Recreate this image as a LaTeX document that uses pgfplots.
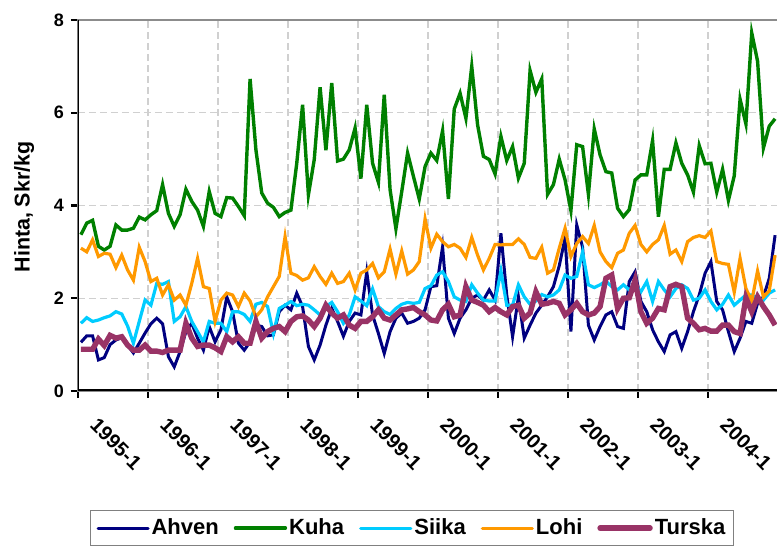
\documentclass[border=0pt]{standalone}
\usepackage{fontspec}
\setmainfont{Liberation Sans}
\usepackage{pgfplots}
\pgfplotsset{compat=1.18}
\usepackage{pgfplotstable}
\definecolor{ahven}{HTML}{000080}
\definecolor{kuha}{HTML}{008000}
\definecolor{siika}{HTML}{00CCFF}
\definecolor{lohi}{HTML}{FF9900}
\definecolor{turska}{HTML}{993366}
\definecolor{gridc}{HTML}{D0D0D0}

\pgfplotstableread{
m ahven kuha siika lohi turska
0 1.05 3.37 1.46 3.08 0.90
1 1.19 3.62 1.58 3.00 0.90
2 1.19 3.68 1.50 3.26 0.90
3 0.67 3.12 1.53 2.90 1.12
4 0.72 3.04 1.58 2.97 0.98
5 1.00 3.12 1.62 2.95 1.20
6 1.10 3.58 1.71 2.66 1.14
7 1.15 3.47 1.66 2.93 1.17
8 0.99 3.47 1.40 2.61 0.99
9 0.82 3.51 1.03 2.39 0.88
10 1.03 3.75 1.50 3.10 0.88
11 1.25 3.69 1.96 2.79 0.99
12 1.45 3.80 1.85 2.36 0.86
13 1.57 3.89 2.32 2.43 0.86
14 1.45 4.45 2.30 2.07 0.83
15 0.74 3.83 2.36 2.29 0.88
16 0.52 3.55 1.50 1.96 0.88
17 0.85 3.80 1.60 2.07 0.88
18 1.28 4.35 1.82 1.85 1.46
19 1.46 4.09 1.50 2.32 1.14
20 1.14 3.90 1.28 2.86 0.96
21 0.88 3.55 1.06 2.25 0.99
22 1.39 4.30 1.50 2.21 0.99
23 1.06 3.83 1.46 1.50 0.93
24 1.32 3.76 1.46 1.96 0.85
25 2.03 4.17 1.28 2.11 1.17
26 1.71 4.16 1.71 2.07 1.06
27 1.03 3.98 1.71 1.82 1.17
28 0.88 3.78 1.65 2.11 1.03
29 1.06 6.73 1.50 1.94 1.03
30 1.42 5.20 1.87 1.60 1.50
31 1.39 4.27 1.91 1.75 1.14
32 1.19 4.05 1.82 2.03 1.28
33 1.21 3.96 1.24 2.25 1.35
34 1.71 3.76 1.78 2.47 1.39
35 1.85 3.85 1.85 3.33 1.28
36 1.75 3.90 1.93 2.54 1.50
37 2.11 4.91 1.84 2.49 1.60
38 1.82 6.17 1.87 2.39 1.62
39 0.96 4.23 1.85 2.44 1.53
40 0.67 4.99 1.75 2.68 1.39
41 0.99 6.55 1.64 2.47 1.57
42 1.42 5.19 1.82 2.30 1.85
43 1.78 6.64 1.91 2.54 1.68
44 1.50 4.96 1.71 2.32 1.57
45 1.18 5.00 1.46 2.36 1.64
46 1.50 5.20 1.64 2.54 1.42
47 1.68 5.67 2.03 2.18 1.35
48 1.64 4.58 1.94 2.54 1.50
49 2.57 6.17 1.84 2.61 1.50
50 1.64 4.91 2.20 2.75 1.60
51 1.24 4.50 1.82 2.44 1.75
52 0.81 6.39 1.71 2.57 1.57
53 1.28 4.34 1.65 3.06 1.53
54 1.57 3.50 1.78 2.52 1.64
55 1.68 4.30 1.87 3.02 1.75
56 1.46 5.13 1.91 2.52 1.77
57 1.50 4.63 1.89 2.61 1.80
58 1.57 4.14 1.91 2.79 1.71
59 1.75 4.84 2.21 3.71 1.64
60 2.25 5.13 2.27 3.08 1.53
61 2.27 4.97 2.50 3.38 1.51
62 3.11 5.61 2.57 3.22 1.75
63 1.57 4.14 2.36 3.11 1.87
64 1.24 6.08 2.03 3.16 1.60
65 1.57 6.42 1.96 3.08 1.64
66 1.75 5.88 1.93 2.88 2.25
67 2.00 7.00 2.29 3.31 1.96
68 2.07 5.74 2.11 2.93 1.91
69 1.96 5.06 1.96 2.61 1.85
70 2.18 4.99 1.94 2.86 1.71
71 1.96 4.68 1.94 3.16 1.80
72 3.40 5.49 2.59 3.15 1.71
73 2.07 4.97 1.85 3.16 1.64
74 1.17 5.27 1.85 3.16 1.82
75 2.03 4.59 2.29 3.28 1.85
76 1.14 4.91 2.03 3.16 1.57
77 1.42 6.91 1.87 2.88 1.68
78 1.68 6.44 1.94 2.86 2.14
79 1.85 6.73 2.08 3.10 1.87
80 2.03 4.24 2.03 2.54 1.89
81 2.25 4.45 2.07 2.61 1.93
82 2.70 5.00 2.18 3.08 1.89
83 3.30 4.55 2.50 3.51 1.64
84 1.28 3.89 2.43 2.90 1.75
85 3.58 5.31 2.47 3.18 1.89
86 3.10 5.27 3.00 3.33 1.71
87 1.42 4.24 2.29 3.18 1.64
88 1.10 5.65 2.23 3.57 1.68
89 1.39 5.09 2.29 3.00 1.82
90 1.64 4.73 2.37 2.79 2.43
91 1.71 4.70 2.25 2.66 2.50
92 1.39 3.94 2.18 2.97 1.78
93 1.35 3.76 2.29 3.04 2.00
94 2.36 3.91 2.18 3.40 2.01
95 2.57 4.55 2.29 3.57 2.39
96 1.93 4.66 2.14 3.16 1.71
97 1.71 4.66 2.36 3.00 1.46
98 1.32 5.40 1.93 3.16 1.57
99 1.06 3.76 2.36 3.26 1.78
100 0.85 4.78 2.18 3.57 1.75
101 1.21 4.78 2.03 2.95 2.25
102 1.28 5.35 2.21 3.04 2.30
103 0.92 4.91 2.29 2.79 2.25
104 1.28 4.66 2.21 3.22 1.57
105 1.71 4.29 1.96 3.31 1.46
106 2.07 5.29 2.00 3.35 1.32
107 2.54 4.90 2.18 3.31 1.35
108 2.79 4.91 1.93 3.45 1.29
109 1.93 4.29 1.75 2.79 1.29
110 1.75 4.78 1.87 2.75 1.42
111 1.28 4.11 2.07 2.73 1.42
112 0.85 4.64 1.85 2.13 1.28
113 1.14 6.29 1.96 2.86 1.24
114 1.50 5.76 2.07 2.21 2.01
115 1.46 7.72 2.07 1.94 1.71
116 1.89 7.11 2.00 2.59 2.03
117 2.03 5.24 1.96 2.03 1.82
118 2.43 5.71 2.11 2.16 1.64
119 3.36 5.87 2.18 2.93 1.42
}\data

\begin{document}
\begin{tikzpicture}
\useasboundingbox (0,0) rectangle (388.5pt,274.5pt);
\begin{axis}[
  at={(39pt,79pt)}, anchor=south west,
  width=350pt, height=185.5pt, scale only axis,
  xmin=-0.5, xmax=119.5, ymin=0, ymax=8,
  xtick={-0.5,11.5,23.5,35.5,47.5,59.5,71.5,83.5,95.5,107.5,119.5},
  xticklabels={1995-1,1996-1,1997-1,1998-1,1999-1,2000-1,2001-1,2002-1,2003-1,2004-1,{}},
  ytick={0,2,4,6,8},
  xtick pos=bottom, ytick pos=left,
  grid=major,
  grid style={gridc, dash pattern=on 3.5pt off 2pt, line width=0.6pt},
  axis line style={gray!90, line width=0.8pt},
  tick align=outside, major tick length=3.5pt,
  tick style={black, line width=1.2pt},
  /pgf/number format/assume math mode=true,
  yticklabel style={font=\bfseries\fontsize{9}{10}\selectfont},
  xticklabel style={font=\bfseries\fontsize{10}{12}\selectfont, xshift=10.5pt, yshift=-4.5pt, rotate=-45, anchor=north west},
  ylabel={Hinta, Skr/kg},
  ylabel style={font=\bfseries\fontsize{10.7}{12}\selectfont, at={(axis description cs:-0.077,0.496)}, anchor=center},
  legend columns=-1,
  legend style={at={(0.477,-0.321)}, anchor=north, draw=gray, line width=0.6pt,
    font=\bfseries\fontsize{11}{13}\selectfont, inner xsep=3pt, inner ysep=2pt,
    nodes={inner xsep=1pt, inner ysep=2pt},
    /tikz/every even column/.append style={column sep=6.5pt}},
  legend image code/.code={\draw[#1, line cap=round] (0pt,0pt) -- (25pt,0pt);},
]
\addplot[ahven, line width=1.5pt] table[x=m, y=ahven] {\data};
\addplot[kuha, line width=1.7pt] table[x=m, y=kuha] {\data};
\addplot[siika, line width=1.6pt] table[x=m, y=siika] {\data};
\addplot[lohi, line width=1.6pt] table[x=m, y=lohi] {\data};
\addplot[turska, line width=2.7pt] table[x=m, y=turska] {\data};
\legend{Ahven, Kuha, Siika, Lohi, Turska}
\draw[black, line width=1.5pt] (rel axis cs:0,1) -- (rel axis cs:0,0) -- (rel axis cs:1,0);
\end{axis}
\end{tikzpicture}
\end{document}
